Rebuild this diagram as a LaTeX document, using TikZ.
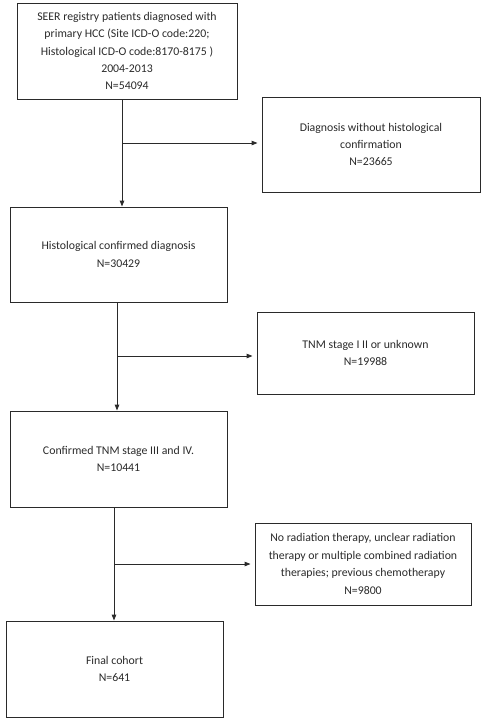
\documentclass[tikz,border=0pt]{standalone}
\usepackage{fontspec}
\setmainfont{Carlito}
\usetikzlibrary{arrows.meta,calc}
\definecolor{ink}{HTML}{2A2A2A}
\tikzset{
  box/.style={draw=ink, line width=0.9pt, align=center, text=ink, inner sep=2pt,
    font=\fontsize{11.8}{17.4}\selectfont},
  flow/.style={draw=ink, line width=0.9pt, -{Triangle[length=6pt,width=4.5pt]}},
}
\begin{document}
\begin{tikzpicture}[x=1pt,y=-1pt]
\useasboundingbox (0,0) rectangle (485,721);
\node[box, minimum width=220pt, minimum height=96pt] (b1) at (127,51)
  {SEER registry patients diagnosed with\\primary HCC (Site ICD-O code:220;\\Histological ICD-O code:8170-8175 )\\2004-2013\\N=54094};
\node[box, minimum width=218pt, minimum height=95pt] (b2) at (371,144.5)
  {Diagnosis without histological\\confirmation\\N=23665};
\node[box, minimum width=217pt, minimum height=95pt] (b3) at (118.5,254.5)
  {Histological confirmed diagnosis\\N=30429};
\node[box, minimum width=217pt, minimum height=82pt] (b4) at (365.5,353)
  {TNM stage I II or unknown\\N=19988};
\node[box, minimum width=217pt, minimum height=96pt] (b5) at (118.5,459)
  {Confirmed TNM stage III and IV.\\N=10441};
\node[box, minimum width=216pt, minimum height=82pt] (b6) at (363,564)
  {No radiation therapy, unclear radiation\\therapy or multiple combined radiation\\therapies; previous chemotherapy\\N=9800};
\node[box, minimum width=217pt, minimum height=96pt] (b7) at (114.5,669)
  {Final cohort\\N=641};
\coordinate (j1) at (122,143);
\coordinate (j2) at (117,356);
\coordinate (j3) at (114,564);
\draw[flow] (b1.south -| j1) -- (b3.north -| j1);
\draw[flow, shorten >=4pt] (j1) -- (b2.west |- j1);
\draw[flow] (b3.south -| j2) -- (b5.north -| j2);
\draw[flow, shorten >=4pt] (j2) -- (b4.west |- j2);
\draw[flow] (b5.south -| j3) -- (b7.north -| j3);
\draw[flow, shorten >=4pt] (j3) -- (b6.west |- j3);
\end{tikzpicture}
\end{document}
